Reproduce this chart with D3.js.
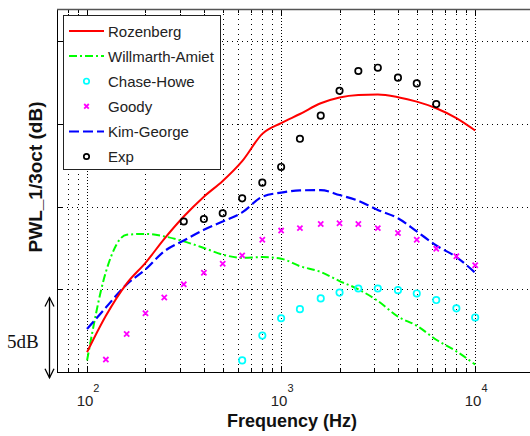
<!DOCTYPE html>
<html>
  <head>
    <meta charset="utf-8">
    <style type="text/css">
      body { margin: 0; overflow: hidden; background: #fff; }
      svg { display: block; }
    </style>
    <script src="https://d3js.org/d3.v7.min.js"></script>
  </head>
  <body>
    <svg width="530" height="436"></svg>
    <script>
      // 1/3 octave band centres (Hz)
      const freqs = [100, 125, 160, 200, 250, 315, 400, 500, 630, 800, 1000,
                     1250, 1600, 2000, 2500, 3150, 4000, 5000, 6300, 8000, 10000];

      // levels in dB (arbitrary offset, grid every 5 dB)
      const rozenberg = [1.2, 3.4, 5.35, 6.6, 8.05, 9.4, 10.6, 11.55, 12.75, 14.4, 15.05,
                         15.6, 16.25, 16.6, 16.75, 16.78, 16.62, 16.35, 15.95, 15.35, 14.6];
      const willmarthAmiet = [0.7, 6.05, 8.3, 8.35, 8.2, 7.9, 7.5, 7.1, 6.9, 6.95, 6.85,
                              6.4, 6.05, 5.5, 5.0, 4.3, 3.35, 2.8, 1.95, 1.25, 0.45];
      const kimGeorge = [2.6, 3.9, 5.3, 6.2, 7.3, 7.95, 8.6, 9.1, 9.65, 10.6, 10.85,
                         10.98, 11.0, 10.7, 10.35, 9.8, 9.3, 8.5, 7.65, 6.95, 6.0];
      const chaseHowe = [null, null, null, null, null, null, null, null, 0.7, 2.2, 3.25,
                         3.8, 4.45, 4.8, 5.05, 5.05, 4.95, 4.75, 4.35, 3.85, 3.3];
      const goody = [null, 0.75, 2.3, 3.55, 4.5, 5.3, 6.0, 6.55, 7.05, 8.0, 8.55,
                     8.7, 8.95, 9.0, 8.95, 8.7, 8.4, 8.0, 7.45, 7.0, 6.45];
      const exp = [null, null, null, null, null, 9.1, 9.25, 9.6, 10.5, 11.45, 12.4,
                   14.1, 15.5, 17.0, 18.2, 18.4, 17.8, 17.45, 16.2, null, null];

      const yTicks = [5, 10, 15, 20];
      const xMajor = [100, 1000, 10000];
      const scaleBar = [-0.35, 4.5];

      const svg = d3.select('svg');
      const font = '"Liberation Sans", Arial, Helvetica, sans-serif';
      const pl = 57, pt = 9, pb = 372, pr = 533.6;

      const x = d3.scaleLog().domain([70, 20000]).range([pl, pr]);
      const y = d3.scaleLinear().domain([0, 21.95]).range([pb, pt]);

      // all log ticks 70..20000
      const xAll = [];
      [10, 100, 1000, 10000].forEach(dec => {
        for (let k = 1; k < 10; k++) {
          const v = dec * k;
          if (v >= 70 && v <= 20000) xAll.push(v);
        }
      });

      const grid = svg.append('g')
        .attr('stroke', '#000')
        .attr('stroke-width', 1);
      grid.selectAll('line.v').data(xAll.filter(v => v > 70)).enter()
        .append('line')
          .attr('x1', d => Math.round(x(d)) + 0.5).attr('x2', d => Math.round(x(d)) + 0.5)
          .attr('y1', pt).attr('y2', pb)
          .attr('stroke-dasharray', d => xMajor.includes(d) ? '1,2' : '1,4');
      grid.selectAll('line.h').data(yTicks).enter()
        .append('line')
          .attr('x1', pl).attr('x2', 530)
          .attr('y1', d => Math.round(y(d)) + 0.5).attr('y2', d => Math.round(y(d)) + 0.5)
          .attr('stroke-dasharray', '1,4');

      // ticks
      const ticks = svg.append('g').attr('stroke', '#000').attr('stroke-width', 1);
      xAll.forEach(v => {
        const px = Math.round(x(v)) + 0.5;
        const len = xMajor.includes(v) ? 6 : 4;
        ticks.append('line').attr('x1', px).attr('x2', px).attr('y1', pt).attr('y2', pt + len);
        ticks.append('line').attr('x1', px).attr('x2', px).attr('y1', pb).attr('y2', pb - len);
      });
      yTicks.forEach(v => {
        const py = Math.round(y(v)) + 0.5;
        ticks.append('line').attr('x1', pl).attr('x2', pl + 6).attr('y1', py).attr('y2', py);
      });

      // axes box (right edge falls outside the picture)
      svg.append('line').attr('x1', pl + 0.5).attr('x2', pl + 0.5).attr('y1', pt).attr('y2', pb + 0.5)
        .attr('stroke', '#000');
      svg.append('line').attr('x1', pl).attr('x2', 530).attr('y1', pb + 0.5).attr('y2', pb + 0.5)
        .attr('stroke', '#000');
      svg.append('line').attr('x1', pl).attr('x2', 530).attr('y1', pt + 0.5).attr('y2', pt + 0.5)
        .attr('stroke', '#555').attr('stroke-width', 1.5);

      // tick labels 10^n
      const labels = svg.append('g').attr('font-family', font).attr('fill', '#222');
      xMajor.forEach(v => {
        const t = labels.append('text')
          .attr('x', x(v) + 1).attr('y', 406)
          .attr('text-anchor', 'middle').attr('font-size', 15);
        t.append('tspan').text('10');
        t.append('tspan').attr('dy', -14).attr('font-size', 11).text(Math.round(Math.log10(v)));
      });

      svg.append('text')
        .attr('x', 292).attr('y', 427)
        .attr('text-anchor', 'middle')
        .attr('font-family', font).attr('font-weight', 'bold').attr('font-size', 18)
        .attr('fill', '#111')
        .text('Frequency (Hz)');
      svg.append('text')
        .attr('transform', 'translate(42,177) rotate(-90)')
        .attr('text-anchor', 'middle')
        .attr('font-family', font).attr('font-weight', 'bold').attr('font-size', 19)
        .attr('fill', '#111')
        .text('PWL_1/3oct (dB)');

      // 5 dB scale bar
      const sb = svg.append('g').attr('stroke', '#000').attr('stroke-width', 1.3).attr('fill', 'none');
      const yT = y(scaleBar[1]), yB = y(scaleBar[0]), ax = 49.5;
      sb.append('line').attr('x1', ax).attr('x2', ax).attr('y1', yT).attr('y2', yB);
      sb.append('path').attr('d', `M${ax - 4.5},${yT + 9}L${ax},${yT}L${ax + 4.5},${yT + 9}`);
      sb.append('path').attr('d', `M${ax - 4.5},${yB - 9}L${ax},${yB}L${ax + 4.5},${yB - 9}`);
      svg.append('text')
        .attr('x', 7).attr('y', 348)
        .attr('font-family', '"Liberation Serif", "Times New Roman", serif').attr('font-size', 19)
        .attr('fill', '#111')
        .text('5dB');

      // curves
      const line = d3.line()
        .defined(d => d[1] != null)
        .x(d => x(d[0])).y(d => y(d[1]))
        .curve(d3.curveMonotoneX);
      const zip = arr => freqs.map((f, i) => [f, arr[i]]);

      svg.append('path').datum(zip(willmarthAmiet))
        .attr('d', line).attr('fill', 'none')
        .attr('stroke', '#00ff00').attr('stroke-width', 2).attr('stroke-dasharray', '8,3,2,3');
      svg.append('path').datum(zip(kimGeorge))
        .attr('d', line).attr('fill', 'none')
        .attr('stroke', '#0000ff').attr('stroke-width', 2.2).attr('stroke-dasharray', '10,4');
      svg.append('path').datum(zip(rozenberg))
        .attr('d', line).attr('fill', 'none')
        .attr('stroke', '#ff0000').attr('stroke-width', 2);

      // markers
      const circles = (arr, color) => svg.append('g').selectAll('circle')
        .data(zip(arr).filter(d => d[1] != null)).enter()
        .append('circle')
          .attr('cx', d => x(d[0])).attr('cy', d => y(d[1]))
          .attr('r', 3.2).attr('fill', 'none')
          .attr('stroke', color).attr('stroke-width', 1.7);
      circles(chaseHowe, '#00ffff');
      circles(exp, '#000');

      const cross = (g, cx, cy, s) => g.append('path')
        .attr('d', `M${cx - s},${cy - s}L${cx + s},${cy + s}M${cx - s},${cy + s}L${cx + s},${cy - s}`);
      const goodyG = svg.append('g').attr('stroke', '#ff00ff').attr('stroke-width', 1.8);
      zip(goody).filter(d => d[1] != null).forEach(d => cross(goodyG, x(d[0]), y(d[1]), 2.6));

      // legend
      const lg = svg.append('g');
      lg.append('rect').attr('x', 63.5).attr('y', 15.5).attr('width', 157).attr('height', 154)
        .attr('fill', '#fff').attr('stroke', '#222').attr('stroke-width', 1);
      const entries = [
        { name: 'Rozenberg', type: 'line', color: '#ff0000', dash: null },
        { name: 'Willmarth-Amiet', type: 'line', color: '#00ff00', dash: '8,3,2,3' },
        { name: 'Chase-Howe', type: 'circle', color: '#00ffff' },
        { name: 'Goody', type: 'cross', color: '#ff00ff' },
        { name: 'Kim-George', type: 'line', color: '#0000ff', dash: '10,4' },
        { name: 'Exp', type: 'circle', color: '#000' }
      ];
      entries.forEach((e, i) => {
        const cy = 31 + i * 25.1;
        if (e.type === 'line') {
          lg.append('line').attr('x1', 69).attr('x2', 104).attr('y1', cy).attr('y2', cy)
            .attr('stroke', e.color).attr('stroke-width', 2)
            .attr('stroke-dasharray', e.dash);
        } else if (e.type === 'circle') {
          lg.append('circle').attr('cx', 86.5).attr('cy', cy).attr('r', 2.7)
            .attr('fill', 'none').attr('stroke', e.color).attr('stroke-width', 1.7);
        } else {
          const g = lg.append('g').attr('stroke', e.color).attr('stroke-width', 1.8);
          cross(g, 86.5, cy, 2.3);
        }
        lg.append('text').attr('x', 108).attr('y', cy + 5.5)
          .attr('font-family', font).attr('font-size', 15).attr('fill', '#222')
          .text(e.name);
      });
    </script>
  </body>
</html>
